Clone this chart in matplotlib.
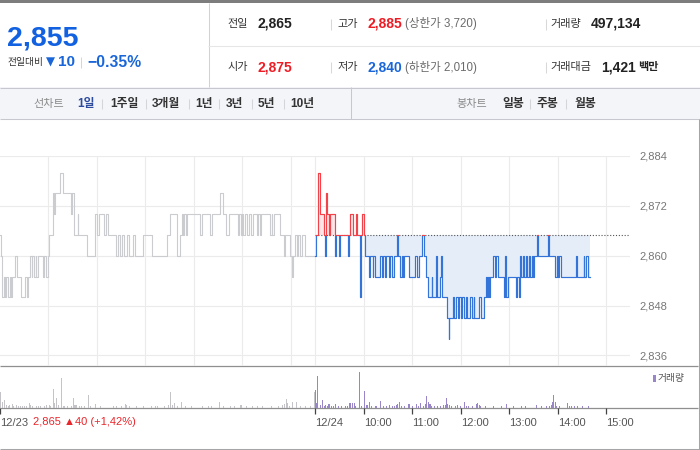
import numpy as np
import matplotlib
matplotlib.use('Agg')
import matplotlib.pyplot as plt
from matplotlib.patches import Rectangle

plt.rcParams['font.family'] = ['Liberation Sans', 'Noto Sans CJK KR', 'DejaVu Sans']

# ---------------- data ----------------
prev_close = 2865
day2_start = 390          # minutes since 12/23 09:00 (12/24 09:00)
x_end = 779.4

# 12/23 intraday (change points: minute, price)
t1 = [0, 1, 2, 5, 6, 8, 10, 12, 13, 15,
      19, 21, 26, 31, 33, 35, 37, 39, 40, 42,
      44, 45, 47, 53, 54, 57, 60, 61, 66, 67,
      68, 74, 78, 88, 89, 91, 92, 96, 97, 108,
      117, 120, 123, 129, 131, 134, 144, 146, 148, 151,
      153, 157, 159, 165, 167, 177, 188, 207, 210, 219,
      223, 225, 226, 228, 230, 231, 247, 250, 260, 262,
      272, 276, 280, 283, 295, 296, 298, 300, 301, 303,
      306, 308, 311, 313, 318, 319, 322, 323, 334, 336,
      337, 339, 346, 351, 353, 359, 361, 363, 365, 367,
      369, 371, 373, 377, 389]
p1 = [2865, 2860, 2850, 2855, 2850, 2855, 2850, 2855, 2850, 2855,
      2860, 2855, 2850, 2855, 2850, 2855, 2860, 2855, 2860, 2855,
      2860, 2855, 2860, 2855, 2860, 2855, 2860, 2865, 2875, 2870,
      2875, 2880, 2875, 2870, 2875, 2870, 2865, 2870, 2865, 2860,
      2870, 2865, 2870, 2865, 2870, 2865, 2860, 2865, 2860, 2865,
      2860, 2865, 2860, 2865, 2860, 2865, 2860, 2865, 2870, 2860,
      2865, 2870, 2865, 2870, 2865, 2870, 2865, 2870, 2865, 2870,
      2875, 2870, 2865, 2870, 2865, 2870, 2865, 2870, 2865, 2870,
      2865, 2870, 2865, 2870, 2865, 2870, 2865, 2870, 2865, 2870,
      2865, 2870, 2865, 2860, 2865, 2860, 2855, 2860, 2865, 2860,
      2865, 2860, 2865, 2860, 2860]

# 12/24 intraday
t2 = [390, 391, 393, 396, 401, 402, 403, 404, 407, 408,
      414, 415, 416, 420, 421, 431, 432, 433, 437, 440,
      442, 445, 447, 448, 450, 451, 457, 458, 461, 462,
      464, 470, 472, 474, 476, 478, 481, 483, 485, 487,
      491, 492, 495, 497, 498, 500, 506, 514, 516, 518,
      522, 524, 527, 530, 534, 535, 539, 540, 541, 544,
      546, 547, 553, 555, 556, 560, 562, 564, 566, 568,
      570, 572, 574, 576, 578, 581, 584, 586, 587, 593,
      595, 599, 601, 602, 604, 605, 606, 610, 612, 614,
      616, 624, 625, 626, 628, 638, 640, 642, 643, 645,
      647, 648, 651, 652, 654, 656, 658, 660, 661, 664,
      666, 678, 679, 687, 689, 690, 692, 694, 713, 714,
      722, 723, 725, 727, 730]
p2 = [2860, 2865, 2880, 2870, 2865, 2860, 2875, 2870, 2865, 2870,
      2865, 2860, 2865, 2860, 2865, 2860, 2865, 2870, 2865, 2870,
      2865, 2850, 2865, 2870, 2865, 2860, 2855, 2860, 2855, 2860,
      2855, 2860, 2855, 2860, 2855, 2860, 2855, 2860, 2855, 2860,
      2865, 2860, 2855, 2860, 2855, 2860, 2855, 2860, 2855, 2860,
      2865, 2860, 2855, 2850, 2855, 2850, 2855, 2860, 2850, 2855,
      2860, 2850, 2845, 2840, 2845, 2850, 2845, 2850, 2845, 2850,
      2845, 2850, 2845, 2850, 2845, 2850, 2845, 2850, 2845, 2850,
      2845, 2850, 2855, 2850, 2855, 2850, 2855, 2860, 2855, 2860,
      2855, 2850, 2860, 2850, 2855, 2850, 2855, 2850, 2860, 2855,
      2860, 2855, 2860, 2855, 2860, 2855, 2860, 2855, 2860, 2865,
      2860, 2865, 2860, 2855, 2860, 2855, 2860, 2855, 2860, 2855,
      2860, 2855, 2860, 2855, 2855]

# volume (thousand shares)
v1_t = [0, 3, 5, 8, 10, 12, 15, 17, 20, 23,
        25, 28, 30, 33, 36, 38, 40, 45, 48, 50,
        55, 58, 61, 63, 66, 68, 70, 72, 76, 78,
        80, 83, 89, 91, 92, 94, 98, 101, 105, 109,
        112, 118, 124, 140, 144, 150, 155, 156, 160, 169,
        177, 188, 192, 195, 204, 208, 211, 213, 216, 220,
        225, 230, 237, 250, 258, 262, 272, 276, 285, 290,
        297, 299, 305, 312, 318, 325, 336, 344, 350, 352,
        354, 356, 358, 362, 367, 372, 378, 384, 389]
v1 = [15.6, 6, 7.7, 3, 2.5, 3, 4, 2.5, 3, 2.5,
      2, 2.5, 2, 2, 5, 3, 2.5, 2, 2, 2,
      2, 3, 3.5, 2.5, 19, 5, 10, 3, 30, 2.5,
      2, 2, 2, 10, 3, 3, 2, 2, 2, 13.5,
      2, 4.3, 2, 2, 2.5, 2, 4, 3.5, 2, 2,
      2, 2, 2, 2, 2.5, 3.5, 15.7, 3, 5.5, 2,
      5.7, 2, 2, 2, 2, 2, 5.7, 2, 2, 2,
      2.7, 2.7, 2, 2, 2, 2, 2.3, 2.5, 3, 4.5,
      9, 5, 2, 5.7, 5.7, 2, 2, 2, 16.5]
v2_t = [390, 391, 393, 396, 399, 401, 403, 405, 407, 410,
        413, 415, 419, 423, 428, 430, 433, 434, 436, 438,
        440, 445, 447, 451, 454, 457, 460, 464, 466, 471,
        474, 478, 482, 486, 488, 490, 492, 494, 497, 500,
        506, 510, 515, 518, 520, 524, 527, 528, 530, 532,
        534, 538, 541, 545, 549, 551, 552, 554, 556, 558,
        563, 566, 570, 575, 577, 580, 585, 590, 591, 593,
        595, 601, 610, 620, 627, 635, 645, 650, 664, 670,
        676, 680, 682, 684, 685, 687, 689, 692, 702, 704,
        707, 711, 715, 721, 728]
v2 = [18, 5, 32, 3, 8, 2, 3, 2, 4, 2,
      2, 4, 2.5, 2, 2, 2, 5, 4, 5.5, 5,
      2, 36.5, 2, 16.7, 3, 5.7, 2, 2, 2.5, 7,
      2, 2, 3.5, 2, 2.5, 3.5, 4, 6, 2.5, 2,
      4.3, 2, 4, 2, 5, 2, 4, 12.3, 6, 4,
      2.5, 2, 2, 2, 3, 3.5, 10, 4, 3, 2,
      2, 3, 2, 6, 2.5, 2, 2, 4.5, 5, 3.5,
      2, 2, 2, 2, 4, 2, 2, 2, 3, 2,
      2, 2.5, 3, 6, 12.7, 6.5, 2.5, 2, 5, 2,
      2, 2, 2, 2, 2]

price_ticks = [2836, 2848, 2860, 2872, 2884]
price_tick_labels = ['2,836', '2,848', '2,860', '2,872', '2,884']
grid_minutes = [60, 120, 180, 240, 300, 360, 390, 450, 510, 570, 630, 690, 750]
time_tick_pos = [0, 390, 450, 510, 570, 630, 690, 750]
time_tick_labels = ['12/23', '12/24', '10:00', '11:00', '12:00', '13:00', '14:00', '15:00']

# header info
cur_price = '2,855'
change_abs = '10'
change_pct = '−0.35%'
row1 = [('전일', '2,865', '#222222'), ('고가', '2,885', '#ee1c25'), ('거래량', '497,134', '#222222')]
row2 = [('시가', '2,875', '#ee1c25'), ('저가', '2,840', '#1a66d9'), ('거래대금', '1,421', '#222222')]
limit_up = '(상한가 3,720)'
limit_down = '(하한가 2,010)'
line_tabs = ['1일', '1주일', '3개월', '1년', '3년', '5년', '10년']
candle_tabs = ['일봉', '주봉', '월봉']

# ---------------- figure ----------------
W, H = 700, 450
fig = plt.figure(figsize=(W / 100, H / 100), dpi=100)
fig.patch.set_facecolor('white')

def rect(x0, y0, x1, y1):
    return [x0 / W, 1 - y1 / H, (x1 - x0) / W, (y1 - y0) / H]

bg = fig.add_axes([0, 0, 1, 1])
bg.set_xlim(0, W)
bg.set_ylim(H, 0)
bg.axis('off')

def box(x0, y0, x1, y1, fc):
    bg.add_patch(Rectangle((x0, y0), x1 - x0, y1 - y0, facecolor=fc, edgecolor='none', lw=0))

def hl(y, x0, x1, c, lw=0.75):
    bg.plot([x0, x1], [y, y], color=c, lw=lw, solid_capstyle='butt')

def vl(x, y0, y1, c, lw=0.75):
    bg.plot([x, x], [y0, y1], color=c, lw=lw, solid_capstyle='butt')

def T(x, y, s, size, color, weight='normal', ha='left', family=None):
    kw = {}
    if family is not None:
        kw['family'] = family
    bg.text(x, y, s, fontsize=size, color=color, fontweight=weight, ha=ha, va='center', **kw)

# header frame
box(0, 0, 700, 3, '#7d7d7d')
vl(208.5, 3, 87, '#d2d2d2')
hl(45.5, 208, 700, '#e6e6e6')

# current price block
bg.text(6.5, 45, cur_price, fontsize=20.5, color='#1261e0', fontweight='bold', ha='left', va='baseline')
T(7, 62.5, '전일대비', 7, '#333333')
T(46, 62.5, '▼', 8.5, '#1a66d9', family=['DejaVu Sans'])
T(58, 62.5, change_abs, 11, '#1a66d9', 'bold')
vl(80.5, 57, 68, '#d6d6d6')
T(87, 62.5, change_pct, 11.3, '#1a66d9', 'bold')

# info rows
label_x = [227, 337, 550]
for row, yc in ((row1, 24), (row2, 67)):
    for i, (lab, val, col) in enumerate(row):
        T(label_x[i], yc, lab, 8, '#333333')
        vx = [257, 367][i] if i < 2 else (591 if lab == '거래량' else 601)
        T(vx, yc, val, 10, col, 'bold')
    vl(330.5, yc - 5.5, yc + 5.5, '#d8d8d8')
    vl(545.5, yc - 5.5, yc + 5.5, '#d8d8d8')
T(405, 24, limit_up, 8.3, '#6b6b6b')
T(405, 67, limit_down, 8.3, '#6b6b6b')
T(638, 67, '백만', 8, '#222222', 'bold')

# toolbar
box(0, 87, 700, 119, '#f4f5f9')
hl(87.5, 0, 700, '#c6c8cf')
hl(119, 0, 700, '#c6c8cf')
vl(350.5, 87, 119, '#c6c8cf')
yt = 103.5
T(33, yt, '선차트', 8, '#8a8a8a')
tab_x = [77, 110, 152, 195, 226, 258, 290]
sep_x = [101.5, 145.5, 188.5, 218.5, 251.5, 283.5]
for i, (lab, x) in enumerate(zip(line_tabs, tab_x)):
    T(x, yt, lab, 8.5, '#2d4b9e' if i == 0 else '#333333', 'bold')
for x in sep_x:
    vl(x, yt - 5, yt + 5, '#d3d5db')
T(456, yt, '봉차트', 8, '#8a8a8a')
for lab, x in zip(candle_tabs, [502, 537, 574]):
    T(x, yt, lab, 8.5, '#333333', 'bold')
for x in [529.5, 565.5]:
    vl(x, yt - 5, yt + 5, '#d3d5db')

# chart frame lines
hl(366, 0, 698, '#8f8f8f', 0.9)
hl(408, 0, 698, '#8f8f8f', 0.9)
vl(698.5, 119, 449, '#a5a5a5')
hl(449, 0, 700, '#a5a5a5')

# ---------------- price panel ----------------
ax = fig.add_axes(rect(0, 156, 630, 366))
ax.patch.set_visible(False)
ax.set_xlim(0, x_end)
ax.set_ylim(2833.47, 2884)
for s in ax.spines.values():
    s.set_visible(False)
ax.set_yticks(price_ticks)
ax.set_yticklabels(price_tick_labels)
ax.yaxis.tick_right()
ax.tick_params(axis='y', length=0, pad=7, labelsize=8, labelcolor='#777777')
ax.set_xticks(grid_minutes)
ax.tick_params(axis='x', length=0, labelbottom=False)
ax.grid(True, color='#ebebeb', lw=0.8)
ax.set_axisbelow(True)

t1a, p1a = np.array(t1), np.array(p1)
t2a, p2a = np.array(t2), np.array(p2)

ax.plot(t1a, p1a, drawstyle='steps-post', color='#cbccd0', lw=0.8, zorder=3)

ax.fill_between(t2a, np.maximum(p2a, prev_close), prev_close, step='post',
                color='#fde4e7', lw=0, zorder=2)
ax.fill_between(t2a, np.minimum(p2a, prev_close), prev_close, step='post',
                color='#e5edf9', lw=0, zorder=2)
ax.hlines(prev_close, day2_start, x_end, colors='#555555', lw=0.8,
          linestyles=(0, (1, 1.6)), zorder=2.5)

eps = 0.3
red_line, = ax.plot(t2a, p2a, drawstyle='steps-post', color='#f2434a', lw=0.85, zorder=4)
red_line.set_clip_path(Rectangle((day2_start - 5, prev_close - eps), 500, 100, transform=ax.transData))
blue_line, = ax.plot(t2a, p2a, drawstyle='steps-post', color='#3474d9', lw=0.85, zorder=4)
blue_line.set_clip_path(Rectangle((day2_start - 5, prev_close - 100 - eps), 500, 100, transform=ax.transData))

# ---------------- volume panel ----------------
axv = fig.add_axes(rect(0, 366, 630, 408))
axv.patch.set_visible(False)
axv.set_xlim(0, x_end)
axv.set_ylim(0, 42)
for s in axv.spines.values():
    s.set_visible(False)
axv.bar(v1_t, v1, width=1.3, color='#c4c4c8', lw=0)
axv.bar(v2_t, v2, width=1.3, color='#9886c9', lw=0)
axv.set_yticks([])
axv.set_xticks(time_tick_pos)
axv.set_xticklabels(time_tick_labels)
axv.tick_params(axis='x', direction='out', length=4, width=0.9, color='#444444',
                labelsize=8, labelcolor='#555555', pad=3)
for lbl in axv.get_xticklabels():
    lbl.set_horizontalalignment('left')

T(33, 422, '2,865 ▲40 (+1,42%)', 8, '#e8262b')

# legend
box(652.5, 375, 655.5, 382, '#9886c9')
T(658, 378.5, '거래량', 7, '#555555')

fig.savefig('out.png', dpi=100, facecolor='white')
